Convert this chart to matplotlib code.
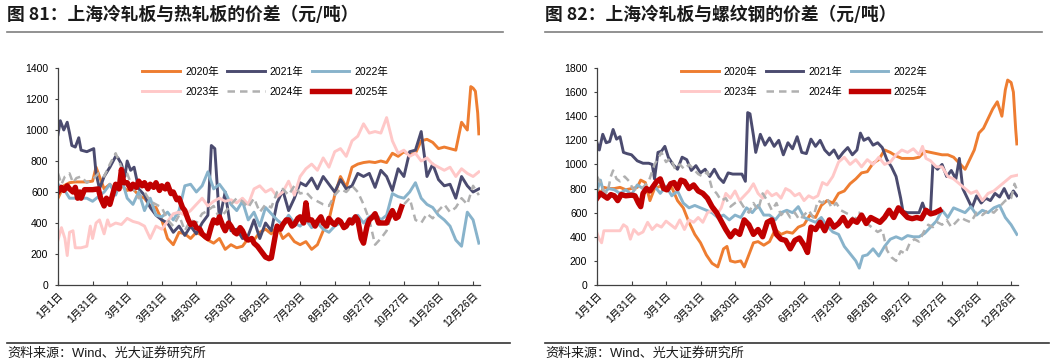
import matplotlib
matplotlib.use('Agg')
import matplotlib.pyplot as plt
from matplotlib.lines import Line2D

plt.rcParams['font.family'] = ['Liberation Sans', 'Noto Sans CJK SC']

# ---- labels / styles ----
years = ['2020年', '2021年', '2022年', '2023年', '2024年', '2025年']
colors = ['#EE7D31', '#4B4B6F', '#88B3CB', '#FFC8C8', '#B0B0B0', '#C00000']
widths = [2.1, 2.1, 2.1, 2.1, 1.8, 3.9]
styles = ['-', '-', '-', '-', (0, (3, 2)), '-']

tick_days = [0, 30, 60, 90, 120, 150, 180, 210, 240, 270, 300, 330, 360]
tick_labels = ['1月1日', '1月31日', '3月1日', '3月31日', '4月30日', '5月30日', '6月29日',
               '7月29日', '8月28日', '9月27日', '10月27日', '11月26日', '12月26日']

titles = ['图 81：上海冷轧板与热轧板的价差（元/吨）', '图 82：上海冷轧板与螺纹钢的价差（元/吨）']
source = '资料来源：Wind、光大证券研究所'

# ---- panel 1: cold rolled vs hot rolled (day of year, yuan/t) ----
p1_2020 = [(0,560),(5,640),(10,660),(15,665),(20,665),(25,665),(30,670),(33,760),(36,700),(40,620),(45,650),(50,600),(55,640),(60,610),(65,620),(70,580),(75,560),(80,510),(85,500),(90,420),(95,300),(100,260),(105,340),(110,330),(115,300),(120,340),(125,320),(130,290),(135,270),(140,300),(145,230),(150,260),(155,240),(160,250),(165,300),(170,290),(175,340),(180,360),(185,330),(190,380),(195,300),(200,330),(205,280),(210,260),(215,280),(220,230),(225,260),(230,350),(235,420),(240,580),(245,700),(250,630),(255,760),(260,780),(265,790),(270,795),(275,790),(280,800),(285,790),(290,850),(295,830),(300,860),(305,840),(310,850),(315,930),(320,940),(325,920),(330,880),(335,890),(340,880),(345,870),(350,1050),(355,1000),(358,1280),(360,1270),(362,1250),(364,1110),(365,975)]
p1_2021 = [(0,970),(2,1060),(5,1000),(8,1050),(10,980),(12,900),(15,890),(18,950),(20,870),(25,860),(28,870),(31,880),(33,720),(36,620),(40,700),(45,760),(50,830),(52,820),(55,780),(58,700),(60,800),(63,740),(66,760),(70,620),(75,580),(80,500),(85,450),(90,420),(95,400),(100,340),(105,380),(110,320),(115,380),(120,330),(125,400),(130,450),(133,900),(136,880),(140,420),(145,600),(150,350),(155,360),(160,300),(165,320),(170,420),(175,300),(180,400),(185,350),(190,530),(195,610),(200,480),(205,560),(210,660),(215,640),(220,690),(225,620),(230,700),(235,650),(240,600),(245,680),(250,620),(255,640),(260,720),(265,700),(270,720),(275,630),(280,740),(285,700),(290,610),(295,750),(300,700),(305,860),(310,870),(315,990),(318,820),(320,700),(325,780),(330,680),(335,640),(340,650),(345,560),(350,700),(355,640),(360,600),(365,620)]
p1_2022 = [(0,650),(5,620),(10,560),(15,560),(20,560),(25,560),(30,540),(35,570),(40,600),(45,650),(50,580),(55,690),(60,560),(65,520),(70,600),(75,480),(80,560),(85,450),(90,440),(95,470),(100,420),(105,480),(110,640),(115,650),(120,600),(125,640),(130,730),(135,620),(140,650),(145,600),(150,520),(155,480),(160,540),(165,420),(170,470),(175,380),(180,500),(185,460),(190,420),(195,390),(200,450),(205,400),(210,380),(215,420),(220,370),(225,400),(230,360),(235,340),(240,380),(245,400),(250,370),(255,430),(260,450),(265,400),(270,440),(275,460),(280,420),(285,450),(290,590),(295,570),(300,560),(305,600),(310,660),(315,560),(320,520),(325,500),(330,450),(335,420),(340,380),(345,290),(350,250),(355,470),(360,420),(363,330),(365,270)]
p1_2023 = [(0,290),(3,370),(6,300),(8,190),(10,340),(13,350),(15,240),(20,240),(25,250),(28,380),(30,300),(33,400),(36,420),(40,330),(43,420),(45,380),(50,400),(55,390),(60,430),(65,410),(70,400),(75,380),(80,300),(85,380),(90,360),(95,410),(100,460),(105,470),(110,450),(115,480),(120,520),(125,560),(130,510),(135,540),(140,560),(145,540),(150,550),(155,530),(160,560),(165,520),(170,620),(175,640),(180,600),(185,620),(190,570),(195,600),(200,670),(205,580),(210,700),(215,750),(220,780),(225,740),(230,820),(235,760),(240,860),(245,880),(250,830),(255,930),(260,960),(265,1040),(270,980),(275,990),(280,980),(285,1080),(290,930),(295,850),(300,870),(305,830),(310,850),(315,800),(320,820),(325,780),(330,760),(335,740),(340,760),(345,700),(350,750),(355,720),(360,700),(365,730)]
p1_2024 = [(0,720),(3,650),(6,700),(10,720),(13,660),(16,690),(20,700),(25,660),(30,680),(35,720),(40,700),(45,780),(50,850),(55,760),(60,720),(65,620),(70,560),(75,600),(80,540),(85,520),(90,500),(95,420),(100,380),(105,450),(110,350),(115,420),(120,400),(125,460),(130,480),(135,510),(140,430),(145,470),(150,520),(155,560),(160,540),(165,500),(170,560),(175,470),(180,520),(185,500),(190,600),(195,620),(200,580),(205,640),(210,590),(215,600),(220,560),(225,540),(230,520),(235,510),(240,580),(245,620),(250,600),(255,640),(260,600),(265,520),(270,420),(275,260),(280,300),(285,350),(290,480),(295,440),(300,520),(305,560),(310,420),(315,400),(320,460),(325,430),(330,480),(335,520),(340,470),(345,500),(350,560),(355,520),(360,640),(365,580)]
p1_2025 = [(0,600),(3,630),(5,610),(8,640),(10,620),(13,600),(15,630),(17,560),(19,600),(20,560),(23,615),(30,615),(35,620),(37,560),(40,510),(42,560),(45,520),(48,600),(50,650),(53,620),(55,745),(57,660),(60,660),(63,620),(65,650),(68,630),(70,670),(73,640),(75,660),(78,620),(80,650),(83,630),(85,660),(88,610),(90,640),(93,620),(95,650),(98,590),(100,600),(103,550),(105,560),(108,500),(110,480),(113,420),(115,390),(118,400),(120,370),(123,360),(125,330),(128,310),(130,300),(133,380),(135,420),(138,400),(140,440),(143,380),(145,350),(148,400),(150,380),(153,340),(155,330),(158,370),(160,350),(163,300),(165,290),(168,300),(170,270),(173,250),(175,230),(178,200),(180,180),(183,170),(185,175),(188,300),(190,380),(193,360),(195,390),(198,420),(200,420),(203,380),(205,390),(208,430),(210,440),(213,400),(215,530),(217,420),(220,420),(223,380),(225,410),(228,440),(230,400),(233,380),(235,430),(238,400),(240,390),(243,420),(245,410),(248,370),(250,380),(253,420),(255,400),(258,440),(260,420),(263,300),(265,270),(268,380),(270,420),(273,440),(275,460),(278,400),(280,400),(285,400),(288,450),(290,480),(293,430),(295,440),(298,505)]

# ---- panel 2: cold rolled vs rebar ----
p2_2020 = [(0,800),(3,760),(6,810),(10,800),(15,800),(20,810),(25,790),(30,800),(35,810),(38,870),(42,850),(46,700),(50,800),(55,820),(60,780),(65,810),(70,700),(75,640),(80,520),(85,420),(90,350),(95,250),(100,180),(105,150),(110,300),(113,320),(116,200),(120,190),(125,200),(128,150),(132,250),(136,350),(140,360),(145,330),(150,360),(155,460),(160,420),(165,440),(170,430),(175,480),(180,500),(185,580),(190,560),(195,660),(200,700),(205,680),(210,760),(215,780),(220,840),(225,880),(230,930),(235,940),(240,1010),(245,1040),(250,1120),(255,1100),(260,1070),(265,1050),(270,1050),(275,1050),(280,1060),(285,1110),(290,1100),(295,1090),(300,1080),(305,1080),(310,1060),(315,1010),(320,960),(325,1060),(328,1120),(332,1260),(336,1300),(340,1380),(344,1460),(348,1520),(352,1400),(355,1620),(357,1700),(360,1680),(362,1600),(364,1290),(365,1170)]
p2_2021 = [(0,1180),(2,1120),(5,1250),(8,1180),(11,1190),(14,1290),(17,1210),(20,1230),(23,1100),(26,1090),(30,1080),(35,1030),(40,1010),(45,1010),(48,1000),(50,880),(53,1100),(56,1110),(59,1150),(62,1060),(66,1000),(70,960),(74,1060),(78,1040),(82,950),(86,990),(90,930),(94,960),(98,900),(102,960),(106,890),(110,850),(114,930),(118,920),(122,920),(126,920),(129,860),(131,1430),(133,1420),(136,1240),(138,1100),(142,1250),(146,1160),(150,1220),(154,1150),(158,1200),(162,1080),(166,1180),(170,1130),(174,1230),(178,1100),(182,1090),(186,1210),(190,1150),(194,1200),(198,1120),(202,1080),(206,1120),(210,1050),(214,1100),(218,1140),(222,1080),(226,1120),(229,1260),(232,1200),(236,1220),(240,1160),(244,1180),(248,1140),(252,1040),(256,980),(260,900),(264,720),(266,610),(270,600),(275,600),(280,600),(283,680),(286,600),(290,620),(292,1000),(296,960),(300,1000),(304,900),(308,950),(312,880),(315,1050),(318,800),(322,720),(326,640),(330,740),(334,680),(338,720),(342,700),(346,760),(350,730),(354,800),(358,720),(362,780),(365,740)]
p2_2022 = [(0,780),(3,870),(6,760),(10,800),(15,790),(20,760),(25,790),(30,750),(35,830),(40,800),(45,790),(50,820),(55,760),(60,820),(65,740),(70,780),(75,680),(80,640),(85,660),(90,640),(95,620),(100,600),(105,560),(110,580),(115,540),(120,580),(125,560),(130,640),(135,600),(140,660),(145,580),(150,580),(155,540),(160,600),(165,620),(170,600),(175,650),(180,560),(185,540),(190,520),(195,560),(200,490),(205,440),(210,420),(215,320),(220,260),(225,200),(228,140),(231,240),(235,250),(240,300),(245,240),(250,320),(255,380),(260,400),(265,380),(270,410),(275,400),(280,400),(285,430),(290,480),(295,530),(300,620),(305,560),(310,640),(315,620),(320,600),(325,650),(330,580),(335,620),(340,600),(345,640),(350,660),(355,560),(360,500),(365,420)]
p2_2023 = [(0,430),(2,380),(4,350),(6,450),(10,450),(15,450),(20,450),(23,500),(26,480),(29,380),(32,460),(36,420),(40,440),(44,520),(48,460),(52,500),(56,480),(60,530),(64,500),(68,470),(72,540),(76,460),(80,540),(84,520),(88,560),(92,520),(96,600),(100,620),(104,580),(108,640),(112,760),(116,720),(120,780),(124,700),(128,740),(132,780),(136,840),(140,760),(144,720),(148,780),(152,740),(156,760),(160,720),(164,800),(168,780),(172,740),(176,760),(180,700),(184,740),(188,720),(192,740),(196,850),(200,830),(205,900),(210,1020),(215,1060),(220,1000),(225,1040),(230,980),(235,1040),(240,1000),(245,1060),(250,1000),(255,1020),(260,1080),(265,1120),(270,1100),(275,1130),(280,1080),(283,1150),(286,1050),(290,1030),(295,980),(300,980),(305,900),(310,880),(315,840),(320,800),(325,760),(330,780),(335,700),(340,760),(345,780),(350,820),(355,860),(360,900),(365,910)]
p2_2024 = [(0,900),(3,850),(6,780),(9,760),(12,900),(14,950),(17,880),(20,860),(24,900),(28,860),(31,800),(35,790),(40,810),(45,860),(50,1000),(53,1050),(56,1100),(60,1020),(64,1050),(68,960),(72,1000),(76,960),(80,1000),(84,960),(88,920),(92,900),(96,940),(100,800),(104,760),(108,700),(112,720),(116,650),(120,680),(124,700),(128,640),(132,600),(136,680),(140,620),(144,760),(148,700),(152,620),(156,680),(160,580),(164,620),(168,560),(172,600),(176,540),(180,580),(184,620),(188,560),(192,700),(196,680),(200,720),(204,640),(208,680),(212,620),(216,600),(220,580),(224,540),(228,600),(232,520),(236,500),(240,470),(244,440),(248,460),(252,290),(256,230),(260,200),(264,280),(268,260),(272,350),(276,380),(280,360),(284,440),(288,500),(292,480),(296,520),(300,500),(304,540),(308,480),(312,520),(316,560),(320,540),(325,520),(330,600),(335,580),(340,620),(345,600),(350,650),(355,700),(360,720),(363,840),(365,790)]
p2_2025 = [(0,720),(3,760),(6,740),(9,720),(12,750),(15,740),(18,700),(21,750),(25,740),(30,745),(33,740),(36,680),(38,650),(40,760),(43,800),(46,780),(49,820),(52,860),(55,880),(58,800),(61,790),(64,840),(67,850),(70,800),(73,870),(76,860),(80,800),(84,830),(88,780),(92,760),(96,720),(100,650),(104,600),(108,530),(112,460),(116,400),(120,450),(124,420),(128,540),(132,500),(136,420),(140,460),(144,400),(148,520),(152,540),(156,420),(160,380),(164,370),(168,300),(172,370),(176,390),(180,330),(183,270),(186,480),(190,460),(194,520),(198,450),(202,540),(206,480),(210,510),(214,560),(218,490),(222,540),(226,520),(230,580),(234,510),(238,560),(242,540),(246,520),(250,560),(254,620),(258,560),(262,640),(266,600),(270,560),(274,550),(278,560),(282,550),(286,620),(290,590),(294,600),(298,620)]

panel1 = [p1_2020, p1_2021, p1_2022, p1_2023, p1_2024, p1_2025]
panel2 = [p2_2020, p2_2021, p2_2022, p2_2023, p2_2024, p2_2025]

W, H = 1055, 364
fig = plt.figure(figsize=(W / 100, H / 100), dpi=100)


def px(x, y):
    return x / W, 1 - y / H


def draw_panel(left, right, title_x, line_end, src_end, series, ymax, title):
    x0, y0 = px(left, 285)
    x1, y1 = px(right, 68)
    ax = fig.add_axes([x0, y0, x1 - x0, y1 - y0])
    handles = []
    for s, lab, c, lw, ls in zip(series, years, colors, widths, styles):
        d = [p[0] for p in s]
        v = [p[1] for p in s]
        h, = ax.plot(d, v, color=c, lw=lw, ls=ls, label=lab, solid_joinstyle='round')
        handles.append(h)
    ax.set_xlim(0, 366)
    ax.set_ylim(0, ymax)
    ax.set_yticks(range(0, ymax + 1, 200))
    ax.set_xticks(tick_days)
    ax.set_xticklabels(tick_labels, rotation=45, ha='right', va='top', rotation_mode='anchor')
    for sp in ['top', 'right']:
        ax.spines[sp].set_visible(False)
    for sp in ['left', 'bottom']:
        ax.spines[sp].set_color('#404040')
        ax.spines[sp].set_linewidth(0.9)
    ax.tick_params(axis='y', direction='out', length=2, pad=5, labelsize=7.5, color='#404040')
    ax.tick_params(axis='x', direction='in', length=3, pad=4, labelsize=7.5, color='#404040')
    # row-major legend: 2020 2021 2022 / 2023 2024 2025
    order = [0, 3, 1, 4, 2, 5]
    ax.legend([handles[i] for i in order], [years[i] for i in order],
              loc='upper left', bbox_to_anchor=(0.2, 1.007), ncol=3, frameon=False,
              fontsize=7.5, handlelength=3.6, handletextpad=0.5, columnspacing=0.8,
              labelspacing=1.0, borderpad=0, borderaxespad=0)

    tx, ty = px(title_x, 15)
    fig.text(tx, ty, title, fontsize=12.8, fontweight='bold', va='center', ha='left',
             color='#1a1a1a', family=['Noto Sans CJK SC'])
    lx0, ly = px(title_x, 32)
    lx1, _ = px(line_end, 32)
    fig.add_artist(Line2D([lx0, lx1], [ly, ly], color='#7f7f7f', lw=1.2))
    sx0, sy = px(title_x, 343)
    sx1, _ = px(src_end, 343)
    fig.add_artist(Line2D([sx0, sx1], [sy, sy], color='#333333', lw=1.2))
    stx, sty = px(title_x, 353)
    fig.text(stx, sty, source, fontsize=9.4, va='center', ha='left', color='#1a1a1a')
    return ax


draw_panel(58, 480, 7, 503, 510, panel1, 1400, titles[0])
draw_panel(597, 1018, 545, 1042, 1049, panel2, 1800, titles[1])

fig.savefig('out.png', dpi=100)
